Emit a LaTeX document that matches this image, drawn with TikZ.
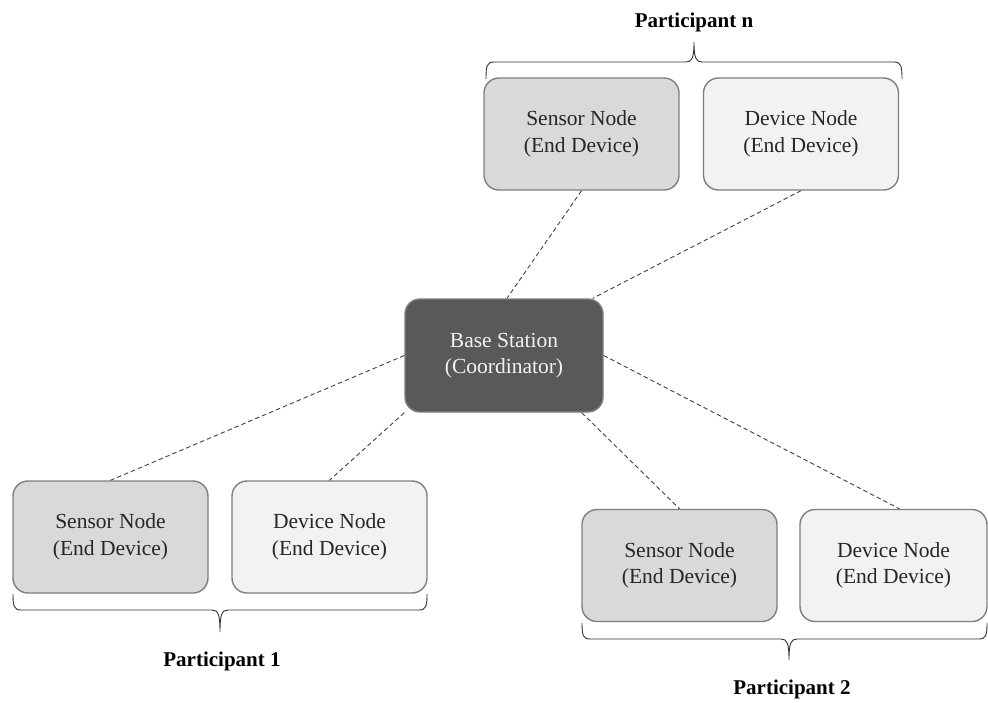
\documentclass[tikz,border=0pt]{standalone}
\usepackage{fontspec}
\setmainfont{Liberation Serif}
\usetikzlibrary{calc}
\definecolor{edgegray}{HTML}{7F7F7F}
\definecolor{sensorfill}{HTML}{D9D9D9}
\definecolor{devicefill}{HTML}{F2F2F2}
\definecolor{basefill}{HTML}{595959}
\definecolor{linkgray}{HTML}{404040}
\tikzset{
  box/.style={draw=edgegray, line width=1.4pt, rounded corners=15pt, minimum width=195pt, minimum height=112pt, align=center, inner sep=0pt, font=\fontsize{21.5}{26.5}\selectfont, text=black!85},
  sensorbox/.style={box, fill=sensorfill},
  devicebox/.style={box, fill=devicefill},
  basebox/.style={box, fill=basefill, text=devicefill, minimum width=198pt, minimum height=113pt},
  link/.style={draw=linkgray, dashed, dash pattern=on 4.5pt off 3pt, line width=0.9pt},
  bracket/.style={draw=black!80, line width=0.9pt},
  plabel/.style={font=\fontsize{21}{25}\selectfont\bfseries}
}
\begin{document}
\begin{tikzpicture}[x=1pt,y=-1pt]
\useasboundingbox[fill=white] (0,0) rectangle (988,702);
% nodes
\node[basebox] (bs) at (504,355.5) {Base Station\\(Coordinator)};
\node[sensorbox] (ts) at (581.5,134) {Sensor Node\\(End Device)};
\node[devicebox] (td) at (801,134) {Device Node\\(End Device)};
\node[sensorbox] (bls) at (110.5,537) {Sensor Node\\(End Device)};
\node[devicebox] (bld) at (329.5,537) {Device Node\\(End Device)};
\node[sensorbox] (brs) at (679.5,565.5) {Sensor Node\\(End Device)};
\node[devicebox, minimum width=187pt] (brd) at (893.5,565.5) {Device Node\\(End Device)};
% labels
\node[plabel] (pn) at (694,22) {Participant n};
\node[plabel] (p1) at (222,661) {Participant 1};
\node[plabel] (p2) at (792,689) {Participant 2};
% links
\draw[link] (ts.south) -- ([xshift=3pt]bs.north);
\draw[link] (td.south) -- ([xshift=-11pt]bs.north east);
\draw[link] (bs.west) -- (bls.north);
\draw[link] (bs.south west) -- (bld.north);
\draw[link] ([xshift=-22pt]bs.south east) -- (brs.north);
\draw[link] (bs.east) -- ([xshift=6pt]brd.north);
% braces
\draw[bracket] (486,79) .. controls (486,66) and (487,62) .. (494,62) -- (686,62)
  .. controls (692,62) and (694,58) .. (694,42)
  .. controls (694,58) and (696,62) .. (702,62) -- (894,62)
  .. controls (901,62) and (902,66) .. (902,79);
\draw[bracket] (13,594) .. controls (13,606) and (14,610) .. (21,610) -- (212,610)
  .. controls (218,610) and (220,614) .. (220,632)
  .. controls (220,614) and (222,610) .. (228,610) -- (419,610)
  .. controls (426,610) and (427,606) .. (427,594);
\draw[bracket] (582,623) .. controls (582,635) and (583,639) .. (590,639) -- (781,639)
  .. controls (787,639) and (789,643) .. (789,660)
  .. controls (789,643) and (791,639) .. (797,639) -- (979,639)
  .. controls (986,639) and (987,635) .. (987,623);
\end{tikzpicture}
\end{document}
